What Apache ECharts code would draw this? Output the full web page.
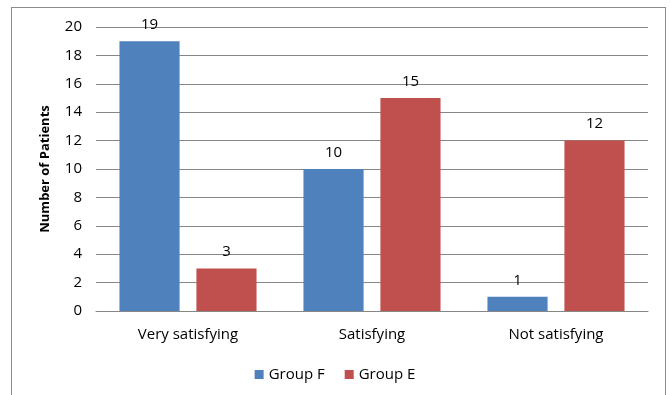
<!DOCTYPE html>
<html>
<head>
<meta charset="utf-8">
<script src="https://cdn.jsdelivr.net/npm/echarts@6/dist/echarts.min.js"></script>
<style>
html,body{margin:0;padding:0;background:#fff;}
#frame{position:absolute;left:11px;top:7px;width:655px;height:400px;border:1px solid #8c8c8c;box-sizing:border-box;}
#chart{position:absolute;left:0;top:0;width:670px;height:395px;}
</style>
</head>
<body>
<div id="frame"></div>
<div id="chart"></div>
<script>
// Patient satisfaction by group
const categories = ['Very satisfying', 'Satisfying', 'Not satisfying'];
const groupF = [19, 10, 1];
const groupE = [3, 15, 12];
const yTicks = [0, 2, 4, 6, 8, 10, 12, 14, 16, 18, 20];

const font = 'Open Sans';
const chart = echarts.init(document.getElementById('chart'), null, {renderer: 'canvas'});

const labelStyle = {show: true, position: 'top', color: '#000', fontFamily: font, fontSize: 15, distance: 9};

chart.setOption({
  animation: false,
  textStyle: {fontFamily: font},
  grid: {left: 96, right: 22, top: 27, bottom: 84, containLabel: false},
  xAxis: {
    type: 'category',
    data: categories,
    axisLine: {show: true, lineStyle: {color: '#868686'}},
    axisTick: {show: false},
    axisLabel: {color: '#000', fontFamily: font, fontSize: 15, margin: 16}
  },
  yAxis: {
    type: 'value',
    min: yTicks[0],
    max: yTicks[yTicks.length - 1],
    interval: 2,
    name: 'Number of Patients',
    nameLocation: 'middle',
    nameGap: 44,
    nameTextStyle: {color: '#000', fontFamily: font, fontSize: 13, fontWeight: 'bold'},
    axisLine: {show: false},
    axisTick: {show: false},
    axisLabel: {color: '#000', fontFamily: font, fontSize: 15, margin: 14},
    splitLine: {show: true, lineStyle: {color: '#868686', width: 1}}
  },
  legend: {
    bottom: 8,
    left: 'center',
    itemWidth: 9,
    itemHeight: 9,
    itemGap: 20,
    icon: 'rect',
    textStyle: {color: '#000', fontFamily: font, fontSize: 15},
    data: ['Group F', 'Group E']
  },
  series: [
    {
      name: 'Group F', type: 'bar', data: groupF,
      barGap: '28%', barCategoryGap: '25.5%',
      itemStyle: {color: '#4F81BD'},
      label: labelStyle
    },
    {
      name: 'Group E', type: 'bar', data: groupE,
      itemStyle: {color: '#C0504D'},
      label: labelStyle
    }
  ]
});
</script>
</body>
</html>
